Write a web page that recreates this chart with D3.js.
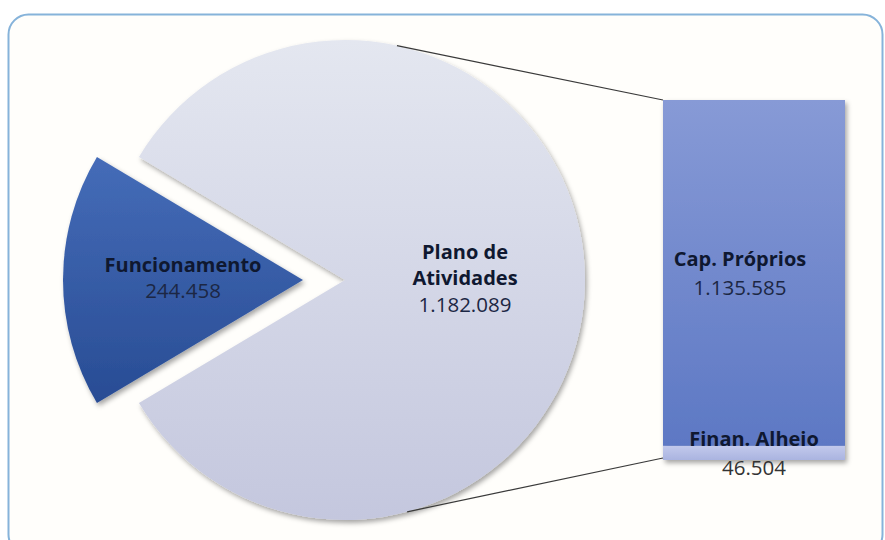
<!DOCTYPE html>
<html>
<head>
<meta charset="utf-8">
<script src="https://cdn.jsdelivr.net/npm/d3@7"></script>
<style>
  html, body { margin: 0; padding: 0; background: #ffffff; }
  svg { display: block; font-family: "Open Sans", "Noto Sans", sans-serif; }
</style>
</head>
<body>
<div id="chart"></div>
<script>
// pie data
var pieLabels = ["Funcionamento", "Plano de Atividades"];
var pieValues = [244458, 1182089];
var pieText = ["244.458", "1.182.089"];

// bar (split of "Plano de Atividades")
var barLabels = ["Finan. Alheio", "Cap. Próprios"];
var barValues = [46504, 1135585];
var barText = ["46.504", "1.135.585"];

var width = 885, height = 540;
var cx = 345, cy = 280, radius = 240;
var explode = 42;
var labelShift = [0, -14]; // horizontal nudge of the bar labels

var svg = d3.select("#chart").append("svg")
    .attr("width", width).attr("height", height);

var defs = svg.append("defs");

var g1 = defs.append("linearGradient").attr("id", "gFunc")
    .attr("x1", 0).attr("y1", 0).attr("x2", 0).attr("y2", 1);
g1.append("stop").attr("offset", "0%").attr("stop-color", "#456cb8");
g1.append("stop").attr("offset", "100%").attr("stop-color", "#284c94");

var g2 = defs.append("linearGradient").attr("id", "gPlano")
    .attr("x1", 0).attr("y1", 0).attr("x2", 0).attr("y2", 1);
g2.append("stop").attr("offset", "0%").attr("stop-color", "#e4e7f0");
g2.append("stop").attr("offset", "100%").attr("stop-color", "#c4c7de");

var g3 = defs.append("linearGradient").attr("id", "gBar")
    .attr("x1", 0).attr("y1", 0).attr("x2", 0).attr("y2", 1);
g3.append("stop").attr("offset", "0%").attr("stop-color", "#879ad6");
g3.append("stop").attr("offset", "100%").attr("stop-color", "#5d78c4");

var g4 = defs.append("linearGradient").attr("id", "gBar2")
    .attr("x1", 0).attr("y1", 0).attr("x2", 0).attr("y2", 1);
g4.append("stop").attr("offset", "0%").attr("stop-color", "#c2c9ec");
g4.append("stop").attr("offset", "100%").attr("stop-color", "#aab4e0");

var shadow = defs.append("filter").attr("id", "shadow")
    .attr("x", "-10%").attr("y", "-10%").attr("width", "130%").attr("height", "130%");
shadow.append("feDropShadow").attr("dx", 2).attr("dy", 3)
    .attr("stdDeviation", 2.5).attr("flood-color", "#000").attr("flood-opacity", 0.35);

// frame
svg.append("rect")
    .attr("x", 8.5).attr("y", 14.5).attr("width", 874).attr("height", 540)
    .attr("rx", 20).attr("ry", 20)
    .attr("fill", "#fffefb").attr("stroke", "#86b3da").attr("stroke-width", 2);

// pie
var frac = pieValues[0] / d3.sum(pieValues);
var start = 1.5 * Math.PI - frac * Math.PI;
var pie = d3.pie().sort(null).startAngle(start).endAngle(start + 2 * Math.PI);
var arcs = pie(pieValues);
var arc = d3.arc().innerRadius(0).outerRadius(radius);

var fills = ["url(#gFunc)", "url(#gPlano)"];

var slices = svg.selectAll("g.slice").data(arcs).enter().append("g")
    .attr("class", "slice")
    .attr("transform", function(d, i) {
        var mid = (d.startAngle + d.endAngle) / 2;
        var off = i === 0 ? explode : 0;
        return "translate(" + (cx + off * Math.sin(mid)) + "," + (cy - off * Math.cos(mid)) + ")";
    });

slices.append("path")
    .attr("d", arc)
    .attr("fill", function(d, i) { return fills[i]; })
    .attr("filter", "url(#shadow)");

slices.each(function(d, i) {
    var c = arc.centroid(d);
    var t = d3.select(this).append("text")
        .attr("text-anchor", "middle")
        .attr("transform", "translate(" + c[0] + "," + c[1] + ")");
    var words = i === 1 ? ["Plano de", "Atividades"] : [pieLabels[i]];
    var lines = words.length + 1;
    var lh = 26.5;
    var y0 = -(lines - 1) * lh / 2 + 5;
    words.forEach(function(w, k) {
        t.append("tspan").attr("x", 0).attr("y", y0 + k * lh)
            .attr("font-weight", "bold").attr("font-size", 20).attr("fill", "#0f1830")
            .text(w);
    });
    t.append("tspan").attr("x", 0).attr("y", y0 + words.length * lh)
        .attr("font-size", 20.5).attr("fill", "#1c2744")
        .text(pieText[i]);
});

// bar of split
var barX = d3.scaleBand().domain(["bar"]).range([663, 845]).padding(0);
var barY = d3.scaleLinear().domain([0, d3.sum(barValues)]).range([460, 100]);

var stack = [];
var acc = 0;
barValues.forEach(function(v, i) {
    stack.push({ label: barLabels[i], text: barText[i], y0: acc, y1: acc + v, i: i });
    acc += v;
});

var barG = svg.append("g").attr("filter", "url(#shadow)");
barG.selectAll("rect").data(stack).enter().append("rect")
    .attr("x", barX("bar"))
    .attr("width", barX.bandwidth())
    .attr("y", function(d) { return barY(d.y1); })
    .attr("height", function(d) { return barY(d.y0) - barY(d.y1); })
    .attr("fill", function(d) { return d.i === 0 ? "url(#gBar2)" : "url(#gBar)"; });

// connector lines
var topAng = 12.5 * Math.PI / 180;
var botAng = 165 * Math.PI / 180;
var lines = [
    [[cx + radius * Math.sin(topAng), cy - radius * Math.cos(topAng)], [barX("bar"), barY(d3.sum(barValues))]],
    [[cx + radius * Math.sin(botAng), cy - radius * Math.cos(botAng)], [barX("bar"), barY(0) - 2]]
];
svg.selectAll("line.conn").data(lines).enter().append("line")
    .attr("class", "conn")
    .attr("x1", function(d) { return d[0][0]; }).attr("y1", function(d) { return d[0][1]; })
    .attr("x2", function(d) { return d[1][0]; }).attr("y2", function(d) { return d[1][1]; })
    .attr("stroke", "#3a3a3a").attr("stroke-width", 1.2);

// bar labels
stack.forEach(function(d) {
    var mx = barX("bar") + barX.bandwidth() / 2 + labelShift[d.i];
    var my = (barY(d.y0) + barY(d.y1)) / 2;
    var t = svg.append("text").attr("text-anchor", "middle")
        .attr("transform", "translate(" + mx + "," + my + ")");
    t.append("tspan").attr("x", 0).attr("y", -7)
        .attr("font-weight", "bold").attr("font-size", 20).attr("fill", "#0f1830")
        .text(d.label);
    t.append("tspan").attr("x", 0).attr("y", 22)
        .attr("font-size", 20.5).attr("fill", d.i === 0 ? "#333333" : "#1c2744")
        .text(d.text);
});
</script>
</body>
</html>
